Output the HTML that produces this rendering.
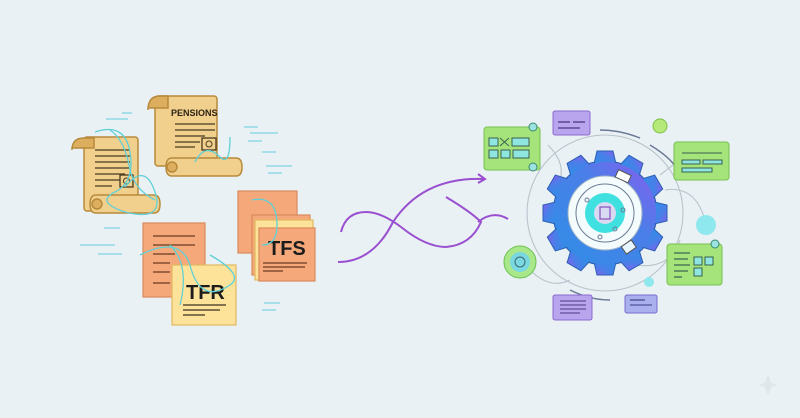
<!DOCTYPE html>
<html><head><style>html,body{margin:0;padding:0;background:#e9f1f4}svg{display:block}</style></head><body>
<svg width="800" height="418" viewBox="0 0 800 418" xmlns="http://www.w3.org/2000/svg" font-family="Liberation Sans, sans-serif">
<defs>
<linearGradient id="g" x1="0" y1="1" x2="1" y2="0"><stop offset="0" stop-color="#2f8fe6"/><stop offset="0.6" stop-color="#4a7ee8"/><stop offset="1" stop-color="#8b5cf0"/></linearGradient>
</defs>
<rect width="800" height="418" fill="#e9f1f4"/>
<g stroke="#8fd8e6" stroke-width="1.5">
<line x1="122" y1="113" x2="132" y2="113"/><line x1="106" y1="119" x2="128" y2="119"/>
<line x1="244" y1="127" x2="258" y2="127"/><line x1="250" y1="133" x2="278" y2="133"/><line x1="248" y1="141" x2="262" y2="141"/>
<line x1="262" y1="152" x2="276" y2="152"/><line x1="266" y1="166" x2="292" y2="166"/><line x1="268" y1="173" x2="282" y2="173"/>
<line x1="104" y1="228" x2="120" y2="228"/><line x1="80" y1="245" x2="115" y2="245"/><line x1="98" y1="254" x2="122" y2="254"/>
<line x1="264" y1="303" x2="280" y2="303"/><line x1="262" y1="310" x2="276" y2="310"/>
</g>
<g stroke="#b78a3c" stroke-width="1.5">
<rect x="84" y="137" width="54" height="74" rx="3" fill="#f1cf8c"/>
<path d="M72 150 q0 -12 12 -12 h10 v10 h-22z" fill="#dcae5e"/>
<path d="M96 195 h58 q6 0 6 9 q0 9 -6 9 h-58 q-6 0 -6 -9 q0 -9 6 -9z" fill="#f1cf8c"/>
<circle cx="97" cy="204" r="5" fill="#dcae5e"/>
</g>
<g stroke="#4a3a20" stroke-width="1.3"><line x1="95" y1="150" x2="130" y2="150"/><line x1="95" y1="156" x2="130" y2="156"/><line x1="95" y1="162" x2="130" y2="162"/><line x1="95" y1="168" x2="130" y2="168"/><line x1="95" y1="174" x2="125" y2="174"/><line x1="95" y1="180" x2="120" y2="180"/><line x1="95" y1="186" x2="112" y2="186"/></g>
<rect x="120" y="175" width="13" height="12" fill="none" stroke="#4a3a20" stroke-width="1.3"/><circle cx="126.5" cy="181" r="3" fill="none" stroke="#4a3a20"/>
<g stroke="#b78a3c" stroke-width="1.5">
<rect x="155" y="96" width="62" height="70" rx="3" fill="#f1cf8c"/>
<path d="M148 110 q0 -14 12 -14 h8 v12 h-20z" fill="#dcae5e"/>
<path d="M172 158 h64 q6 0 6 9 q0 9 -6 9 h-64 q-6 0 -6 -9 q0 -9 6 -9z" fill="#f1cf8c"/>
<circle cx="172" cy="167" r="5" fill="#dcae5e"/>
</g>
<text x="171" y="116" font-size="9" font-weight="bold" fill="#2d2416">PENSIONS</text>
<g stroke="#4a3a20" stroke-width="1.3"><line x1="175" y1="124" x2="215" y2="124"/><line x1="175" y1="130" x2="215" y2="130"/><line x1="175" y1="136" x2="205" y2="136"/><line x1="175" y1="142" x2="200" y2="142"/><line x1="175" y1="147" x2="195" y2="147"/></g>
<rect x="202" y="138" width="14" height="12" fill="none" stroke="#4a3a20" stroke-width="1.3"/><circle cx="209" cy="144" r="3" fill="none" stroke="#4a3a20"/>
<rect x="143" y="223" width="62" height="74" fill="#f5a97a" stroke="#d98a5a" stroke-width="1.2"/>
<g stroke="#6a3a20" stroke-width="1.2"><line x1="153" y1="236" x2="195" y2="236"/><line x1="153" y1="245" x2="195" y2="245"/><line x1="153" y1="254" x2="175" y2="254"/><line x1="153" y1="263" x2="170" y2="263"/><line x1="153" y1="272" x2="170" y2="272"/><line x1="153" y1="283" x2="170" y2="283"/></g>
<rect x="172" y="265" width="64" height="60" fill="#fde39a" stroke="#e0b860" stroke-width="1.2"/>
<text x="186" y="299" font-size="20" font-weight="bold" fill="#1c1c1c">TFR</text>
<g stroke="#3a3020" stroke-width="1.2"><line x1="183" y1="305" x2="226" y2="305"/><line x1="183" y1="310" x2="220" y2="310"/><line x1="183" y1="315" x2="205" y2="315"/></g>
<rect x="238" y="191" width="59" height="62" fill="#f5a97a" stroke="#d98a5a" stroke-width="1.2"/>
<rect x="252" y="215" width="58" height="60" fill="#f5a97a" stroke="#d98a5a" stroke-width="1.2"/>
<rect x="255" y="220" width="58" height="60" fill="#fde39a" stroke="#e0b860" stroke-width="1.2"/>
<rect x="259" y="228" width="56" height="53" fill="#f5a97a" stroke="#d98a5a" stroke-width="1.2"/>
<text x="268" y="255" font-size="20" font-weight="bold" fill="#1c1c1c">TFS</text>
<g stroke="#6a3a20" stroke-width="1.2"><line x1="263" y1="263" x2="307" y2="263"/><line x1="263" y1="267" x2="305" y2="267"/><line x1="263" y1="271" x2="283" y2="271"/></g>
<g fill="none" stroke="#5fd0d8" stroke-width="1.3">
<path d="M95 132 q30 -10 35 20 q5 30 -15 40 q-20 10 10 20 q40 10 30 -20 q-10 -30 -30 -5"/>
<path d="M110 130 q15 10 20 40 q5 20 25 30"/>
<path d="M195 162 q10 -20 25 -5 q10 10 10 -20"/>
<path d="M140 255 q40 -20 50 10 q10 40 40 20 q15 -10 -20 -30"/>
<path d="M170 245 q20 20 10 60"/>
<path d="M252 200 q25 -5 25 25 q0 20 -15 20"/>
</g>
<g fill="none" stroke="#9a4fd0" stroke-width="2">
<path d="M338 262 q35 0 55 -40 q30 -45 90 -43"/>
<path d="M478 174 l7 5 l-7 4"/>
<path d="M341 232 q5 -20 25 -20 q15 0 35 15 q25 20 45 20 q25 -2 35 -25 q-10 -10 -35 -25"/>
<path d="M478 222 q15 -12 30 -3"/>
</g>
<g fill="none" stroke="#b9c3cc" stroke-width="1.1">
<circle cx="605" cy="213" r="78"/>
<path d="M540 150 q-20 -20 -40 -15"/><path d="M548 145 q20 20 10 40"/>
<path d="M660 175 q20 -15 30 -25"/><path d="M665 190 q30 -5 40 30"/>
<path d="M530 270 q20 20 40 10"/><path d="M680 240 q-10 30 -45 25"/>
</g>
<g fill="none" stroke="#6a7a95" stroke-width="1.5"><path d="M600 130 q20 0 40 8"/><path d="M650 145 q25 15 30 30"/><path d="M570 290 q20 10 40 10"/></g>
<g transform="translate(605 213)">
<g fill="url(#g)" stroke="#2a5fb0" stroke-width="1">
<circle r="52"/>
<g id="t"><path d="M-11 -49 L-8 -62 H8 L11 -49Z"/></g>
<use href="#t" transform="rotate(30)"/><use href="#t" transform="rotate(60)"/><use href="#t" transform="rotate(90)"/><use href="#t" transform="rotate(120)"/><use href="#t" transform="rotate(150)"/><use href="#t" transform="rotate(180)"/><use href="#t" transform="rotate(210)"/><use href="#t" transform="rotate(240)"/><use href="#t" transform="rotate(270)"/><use href="#t" transform="rotate(300)"/><use href="#t" transform="rotate(330)"/>
</g>
<circle r="51" fill="url(#g)"/>
<circle r="37" fill="#f4fbfc" stroke="#9fb4c6"/>
<circle r="20" fill="#3fe0e0"/>
<circle r="11" fill="#d9d9f2"/>
<rect x="-5" y="-6" width="10" height="12" fill="none" stroke="#8a5cc0" stroke-width="1.3"/>
<g fill="none" stroke="#6a7a95" stroke-width="1"><circle r="29"/><circle cx="-18" cy="-13" r="2"/><circle cx="18" cy="-3" r="2"/><circle cx="-5" cy="24" r="2"/><circle cx="10" cy="16" r="2"/></g>
<rect x="-6" y="-45" width="14" height="8" fill="#fff" stroke="#555" transform="rotate(25)"/>
<rect x="-6" y="37" width="12" height="9" fill="#e8f6ff" stroke="#555" transform="rotate(-35)"/>
</g>
<rect x="484" y="127" width="56" height="43" rx="3" fill="#a5e47a" stroke="#76c050"/>
<g fill="#8fe6e0" stroke="#3a6050" stroke-width="1"><rect x="489" y="138" width="9" height="8"/><rect x="512" y="138" width="17" height="8"/><rect x="489" y="150" width="9" height="8"/><rect x="501" y="150" width="9" height="8"/><rect x="513" y="150" width="16" height="8"/></g>
<path d="M500 138 l9 8 M509 138 l-9 8" stroke="#3a6050"/>
<circle cx="533" cy="127" r="4" fill="#9be3e0" stroke="#3a8a70"/><circle cx="533" cy="167" r="4" fill="#9be3e0" stroke="#3a8a70"/>
<rect x="553" y="111" width="37" height="24" rx="2" fill="#b9a4ee" stroke="#8a6ad0"/>
<g stroke="#4a3a80" stroke-width="1.3"><line x1="558" y1="122" x2="570" y2="122"/><line x1="573" y1="122" x2="585" y2="122"/><line x1="558" y1="128" x2="580" y2="128"/></g>
<circle cx="660" cy="126" r="7" fill="#b5ea7a" stroke="#7ac040"/>
<rect x="674" y="142" width="55" height="38" rx="3" fill="#a5e47a" stroke="#76c050"/>
<g stroke="#3a6050" stroke-width="1"><line x1="682" y1="153" x2="722" y2="153"/></g>
<g fill="#8fe6e0" stroke="#3a6050"><rect x="682" y="160" width="18" height="4"/><rect x="703" y="160" width="19" height="4"/><rect x="682" y="168" width="30" height="4"/></g>
<circle cx="706" cy="225" r="10" fill="#8fe8ee"/>
<rect x="667" y="244" width="55" height="41" rx="3" fill="#a5e47a" stroke="#76c050"/>
<g stroke="#3a6050" stroke-width="1.2"><line x1="674" y1="253" x2="690" y2="253"/><line x1="674" y1="259" x2="688" y2="259"/><line x1="674" y1="265" x2="690" y2="265"/><line x1="674" y1="271" x2="688" y2="271"/><line x1="674" y1="277" x2="682" y2="277"/></g>
<g fill="#8fe6e0" stroke="#3a6050"><rect x="694" y="257" width="8" height="8"/><rect x="705" y="257" width="8" height="8"/><rect x="694" y="268" width="8" height="8"/></g>
<circle cx="715" cy="244" r="4" fill="#9be3e0" stroke="#3a8a70"/>
<circle cx="520" cy="262" r="16" fill="#a8e88a" stroke="#6ac050"/><circle cx="520" cy="262" r="10" fill="#7ad8e0"/><circle cx="520" cy="262" r="5" fill="none" stroke="#3a6a70"/>
<circle cx="649" cy="282" r="5" fill="#8fe8ee"/>
<rect x="553" y="295" width="39" height="25" rx="2" fill="#b9a4ee" stroke="#8a6ad0"/>
<g stroke="#4a3a80" stroke-width="1.1"><line x1="560" y1="301" x2="586" y2="301"/><line x1="560" y1="305" x2="586" y2="305"/><line x1="560" y1="309" x2="586" y2="309"/><line x1="560" y1="313" x2="580" y2="313"/></g>
<rect x="625" y="295" width="32" height="18" rx="2" fill="#aab0ee" stroke="#7a6ad0"/>
<g stroke="#3a3a80" stroke-width="1.1"><line x1="630" y1="300" x2="645" y2="300"/><line x1="630" y1="305" x2="652" y2="305"/></g>
<path d="M768 375 l4 10 l-4 10 l-4 -10z M758 385 l10 -3 l10 3 l-10 3z" fill="#dde6ea"/>
</svg>
</body></html>
